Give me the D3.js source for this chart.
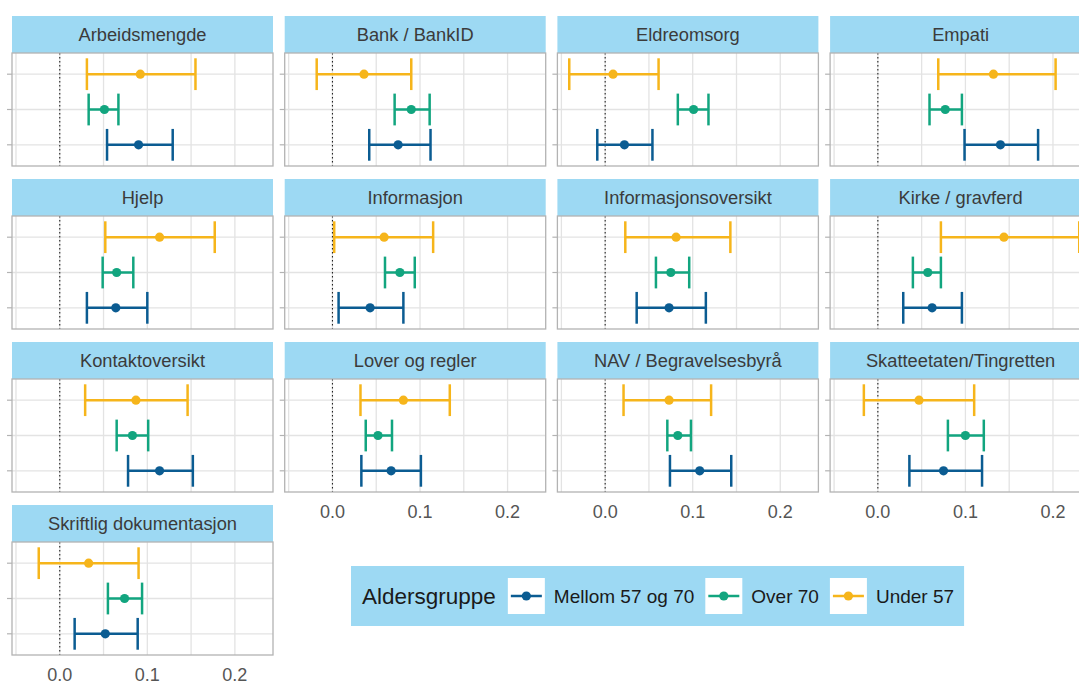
<!DOCTYPE html>
<html>
<head>
<meta charset="utf-8">
<script src="https://cdn.jsdelivr.net/npm/d3@7"></script>
<style>
  body { margin: 0; background: #fff; }
  svg { display: block; font-family: "Liberation Sans", Arial, sans-serif; }
</style>
</head>
<body>
<div id="chart"></div>
<script>
// facets, in panel order
const facets = ["Arbeidsmengde", "Bank / BankID", "Eldreomsorg", "Empati", "Hjelp", "Informasjon",
  "Informasjonsoversikt", "Kirke / gravferd", "Kontaktoversikt", "Lover og regler",
  "NAV / Begravelsesbyrå", "Skatteetaten/Tingretten", "Skriftlig dokumentasjon"]

const groups = ["Mellom 57 og 70", "Over 70", "Under 57"]

// estimate, lower and upper CI per facet
const mellomEst = [0.090, 0.075, 0.022, 0.140, 0.064, 0.043, 0.073, 0.062, 0.114, 0.067, 0.108, 0.075, 0.052]
const mellomLo  = [0.054, 0.042, -0.009, 0.099, 0.031, 0.007, 0.036, 0.029, 0.078, 0.033, 0.074, 0.036, 0.017]
const mellomHi  = [0.129, 0.112, 0.054, 0.183, 0.100, 0.081, 0.115, 0.096, 0.152, 0.101, 0.144, 0.119, 0.089]

const overEst = [0.051, 0.090, 0.101, 0.077, 0.065, 0.077, 0.075, 0.057, 0.083, 0.052, 0.083, 0.100, 0.074]
const overLo  = [0.033, 0.071, 0.083, 0.059, 0.049, 0.060, 0.058, 0.040, 0.065, 0.038, 0.071, 0.080, 0.055]
const overHi  = [0.067, 0.111, 0.118, 0.096, 0.084, 0.094, 0.096, 0.072, 0.101, 0.068, 0.098, 0.121, 0.094]

const underEst = [0.092, 0.036, 0.009, 0.132, 0.114, 0.059, 0.081, 0.144, 0.087, 0.081, 0.073, 0.047, 0.033]
const underLo  = [0.031, -0.018, -0.041, 0.069, 0.052, 0.002, 0.023, 0.072, 0.029, 0.032, 0.021, -0.016, -0.024]
const underHi  = [0.155, 0.090, 0.061, 0.203, 0.177, 0.115, 0.143, 0.230, 0.146, 0.134, 0.121, 0.110, 0.090]

const xTicks = [0, 0.1, 0.2]
const gridTicks = [-0.05, 0, 0.05, 0.1, 0.15, 0.2]

const series = {
  "Mellom 57 og 70": { est: mellomEst, lo: mellomLo, hi: mellomHi },
  "Over 70": { est: overEst, lo: overLo, hi: overHi },
  "Under 57": { est: underEst, lo: underLo, hi: underHi }
}

const rows = []
facets.forEach((f, i) => {
  groups.forEach(g => {
    rows.push({ facet: f, group: g, est: series[g].est[i], lo: series[g].lo[i], hi: series[g].hi[i] })
  })
})

const W = 1079, H = 684
const NCOL = 4
const panelW = 261, gapX = 11.7, left0 = 12
const stripH = 37, panelH = 113, rowStep = 163, top0 = 16

const color = d3.scaleOrdinal()
  .domain(groups)
  .range(["#0b5c92", "#12a57f", "#f6b51b"])

const svg = d3.select("#chart").append("svg")
  .attr("width", W)
  .attr("height", H)

// shared x scale, ggplot-like 5% expansion
const lo = d3.min(rows, d => d.lo), hi = d3.max(rows, d => d.hi)
const pad = (hi - lo) * 0.05
const x = d3.scaleLinear().domain([lo - pad, hi + pad]).range([0, panelW])

const y = d3.scalePoint()
  .domain(["Under 57", "Over 70", "Mellom 57 og 70"])
  .range([0, panelH])
  .padding(0.6)
const capH = y.step() * 0.9

facets.forEach((f, i) => {
  const col = i % NCOL, row = Math.floor(i / NCOL)
  const px = left0 + col * (panelW + gapX)
  const py = top0 + row * rowStep
  const g = svg.append("g").attr("transform", `translate(${px},${py})`)

  // strip
  g.append("rect")
    .attr("width", panelW).attr("height", stripH)
    .attr("fill", "#9dd9f3")
  g.append("text")
    .attr("x", panelW / 2).attr("y", stripH / 2)
    .attr("dy", "0.36em")
    .attr("text-anchor", "middle")
    .attr("font-size", 18.3)
    .attr("fill", "#3b3b3b")
    .text(f)

  const p = g.append("g").attr("transform", `translate(0,${stripH})`)

  p.selectAll(".vgrid").data(gridTicks).join("line")
    .attr("x1", d => x(d)).attr("x2", d => x(d))
    .attr("y1", 0).attr("y2", panelH)
    .attr("stroke", "#e3e3e3").attr("stroke-width", 1.3)

  p.selectAll(".hgrid").data(y.domain()).join("line")
    .attr("x1", 0).attr("x2", panelW)
    .attr("y1", d => y(d)).attr("y2", d => y(d))
    .attr("stroke", "#e3e3e3").attr("stroke-width", 1.3)

  // y ticks (no labels)
  p.selectAll(".ytick").data(y.domain()).join("line")
    .attr("x1", -5).attr("x2", 0)
    .attr("y1", d => y(d)).attr("y2", d => y(d))
    .attr("stroke", "#b3b3b3").attr("stroke-width", 1.2)

  // reference line at zero
  p.append("line")
    .attr("x1", x(0)).attr("x2", x(0))
    .attr("y1", 0).attr("y2", panelH)
    .attr("stroke", "#222").attr("stroke-width", 1.1)
    .attr("stroke-dasharray", "1.5,2.5")

  const data = rows.filter(d => d.facet === f)
  const bars = p.selectAll(".bar").data(data).join("g")
    .attr("stroke", d => color(d.group))
    .attr("fill", d => color(d.group))

  bars.append("line")
    .attr("x1", d => x(d.lo)).attr("x2", d => x(d.hi))
    .attr("y1", d => y(d.group)).attr("y2", d => y(d.group))
    .attr("stroke-width", 2.5)
  bars.append("line")
    .attr("x1", d => x(d.lo)).attr("x2", d => x(d.lo))
    .attr("y1", d => y(d.group) - capH / 2).attr("y2", d => y(d.group) + capH / 2)
    .attr("stroke-width", 2.5)
  bars.append("line")
    .attr("x1", d => x(d.hi)).attr("x2", d => x(d.hi))
    .attr("y1", d => y(d.group) - capH / 2).attr("y2", d => y(d.group) + capH / 2)
    .attr("stroke-width", 2.5)
  bars.append("circle")
    .attr("cx", d => x(d.est)).attr("cy", d => y(d.group))
    .attr("r", 4.6).attr("stroke", "none")

  p.append("rect")
    .attr("width", panelW).attr("height", panelH)
    .attr("fill", "none").attr("stroke", "#b3b3b3").attr("stroke-width", 1.3)

  // x axis labels only on the lowest panel of each column
  const below = i + NCOL >= facets.length
  if (below) {
    p.selectAll(".xlab").data(xTicks).join("text")
      .attr("x", d => x(d)).attr("y", panelH + 26)
      .attr("text-anchor", "middle")
      .attr("font-size", 18)
      .attr("fill", "#555")
      .text(d => d3.format(".1f")(d))
  }
})

// legend
const lg = svg.append("g").attr("transform", "translate(351,566)")
const lgBox = lg.append("rect").attr("height", 60).attr("fill", "#9dd9f3")
const title = lg.append("text")
  .attr("x", 11).attr("y", 30).attr("dy", "0.36em")
  .attr("font-size", 22.5).attr("fill", "#1a1a1a")
  .text("Aldersgruppe")
let cx = 11 + title.node().getComputedTextLength() + 12
groups.forEach(gname => {
  const k = lg.append("g").attr("transform", `translate(${cx},12)`)
  k.append("rect").attr("width", 37).attr("height", 36).attr("fill", "#fff")
  k.append("line").attr("x1", 3).attr("x2", 34).attr("y1", 18).attr("y2", 18)
    .attr("stroke", color(gname)).attr("stroke-width", 2.5)
  k.append("circle").attr("cx", 18.5).attr("cy", 18).attr("r", 4.6).attr("fill", color(gname))
  const t = lg.append("text")
    .attr("x", cx + 37 + 9).attr("y", 30).attr("dy", "0.36em")
    .attr("font-size", 19).attr("fill", "#1a1a1a")
    .text(gname)
  cx += 37 + 9 + t.node().getComputedTextLength() + 11
})
lgBox.attr("width", cx - 1)
</script>
</body>
</html>
